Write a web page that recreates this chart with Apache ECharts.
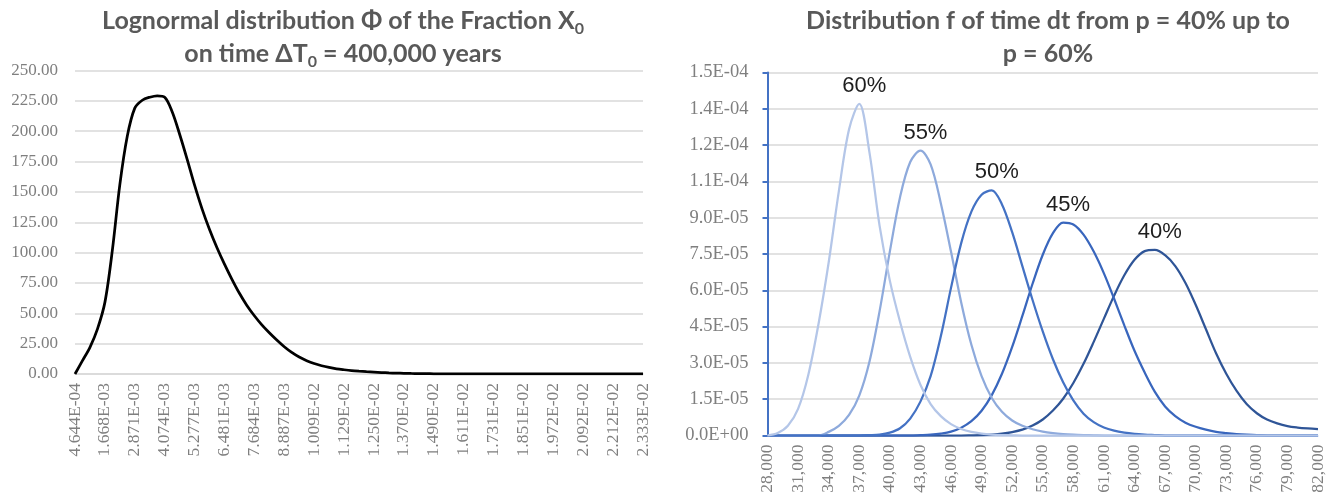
<!DOCTYPE html>
<html>
<head>
<meta charset="utf-8">
<script src="https://cdn.jsdelivr.net/npm/echarts@6/dist/echarts.min.js"></script>
<style>
html,body{margin:0;padding:0;background:#fff;}
#chart{width:1327px;height:500px;}
</style>
</head>
<body>
<div id="chart"></div>
<script>
// ---------- Left chart: lognormal distribution of fraction X0 ----------
const leftTickLabels = ['4.644E-04','1.668E-03','2.871E-03','4.074E-03','5.277E-03','6.481E-03','7.684E-03','8.887E-03','1.009E-02','1.129E-02','1.250E-02','1.370E-02','1.490E-02','1.611E-02','1.731E-02','1.851E-02','1.972E-02','2.092E-02','2.212E-02','2.333E-02'];
const leftSubSteps = 4; // data points per labelled step
const leftPhi = [0,11,22,37,59,102,156,196,219,225.5,228,229.2,228,216,197.5,177,155.5,136,119,104,90.5,78,66.5,56.5,48,40.5,34,28,22.5,17.8,14,11,8.6,6.8,5.4,4.3,3.5,2.8,2.3,1.9,1.55,1.2,0.9,0.7,0.55,0.42,0.32,0.25,0.19,0.15,0.12,0.09,0.07,0.055,0.04,0.03,0.025,0.02,0.015,0.012,0.01,0.008,0.006,0.005,0.004,0.003,0.0025,0.002,0.0015,0.001,0.001,0.0008,0.0006,0.0005,0.0004,0.0003,0.0002];

// ---------- Right chart: distribution f of time dt ----------
const dtStart = 28000, dtEnd = 82000, dtStep = 1000;
const p60 = [0,1e-6,4e-6,1.1e-5,2.5e-5,4.6e-5,7.15e-5,1.01e-4,1.265e-4,1.37e-4,1.17e-4,8.65e-5,6.4e-5,4.7e-5,3.25e-5,2.1e-5,1.3e-5,8e-6,4.7e-6,2.7e-6,1.5e-6,8e-7,4e-7,2e-7,1e-7,0,0,0,0,0,0,0,0,0,0,0,0,0,0,0,0,0,0,0,0,0,0,0,0,0,0,0,0,0,0];
const p55 = [0,0,0,0,0,0,1.5e-6,4e-6,8.5e-6,1.65e-5,3.05e-5,5.15e-5,7.6e-5,9.85e-5,1.13e-4,1.177e-4,1.12e-4,9.6e-5,7.6e-5,5.5e-5,3.75e-5,2.45e-5,1.55e-5,9.8e-6,6.2e-6,4e-6,2.6e-6,1.6e-6,1e-6,6e-7,3.5e-7,2e-7,1e-7,0,0,0,0,0,0,0,0,0,0,0,0,0,0,0,0,0,0,0,0,0,0];
const p50 = [0,0,0,0,0,0,0,0,0,0,1.5e-7,4e-7,1.2e-6,3e-6,7e-6,1.4e-5,2.45e-5,4.1e-5,6.1e-5,7.95e-5,9.25e-5,9.95e-5,1.013e-4,9.55e-5,8.4e-5,7e-5,5.6e-5,4.3e-5,3.15e-5,2.2e-5,1.45e-5,9e-6,5.5e-6,3.3e-6,2e-6,1.2e-6,7e-7,4e-7,2e-7,0,0,0,0,0,0,0,0,0,0,0,0,0,0,0,0];
const p45 = [0,0,0,0,0,0,0,0,0,0,0,0,0,0,0,1.5e-7,3.5e-7,8e-7,1.6e-6,3.2e-6,5.9e-6,1.02e-5,1.67e-5,2.55e-5,3.66e-5,4.94e-5,6.27e-5,7.47e-5,8.36e-5,8.8e-5,8.72e-5,8.3e-5,7.6e-5,6.7e-5,5.65e-5,4.55e-5,3.5e-5,2.6e-5,1.8e-5,1.2e-5,8e-6,5.3e-6,3.6e-6,2.4e-6,1.5e-6,1e-6,6e-7,3.5e-7,2e-7,0,0,0,0,0,0];
const p40 = [0,0,0,0,0,0,0,0,0,0,0,0,0,0,0,0,0,0,0,0,8e-8,1.8e-7,3.8e-7,7.4e-7,1.4e-6,2.4e-6,4.1e-6,6.6e-6,1.03e-5,1.52e-5,2.17e-5,2.96e-5,3.87e-5,4.83e-5,5.78e-5,6.62e-5,7.26e-5,7.62e-5,7.67e-5,7.45e-5,7.0e-5,6.3e-5,5.4e-5,4.4e-5,3.4e-5,2.55e-5,1.85e-5,1.3e-5,9.2e-6,6.6e-6,5e-6,3.9e-6,3.3e-6,2.9e-6,2.6e-6];
const pNames = ['40%','45%','55%','50%','60%'];
const pData = [p40, p45, p55, p50, p60];
const pColors = {'60%':'#b4c6e8','55%':'#8eaadc','50%':'#4472c4','45%':'#3966bd','40%':'#2f5597'};

// ---------- build categories ----------
const leftCategories = [];
for (let i = 0; i < leftTickLabels.length; i++) {
  leftCategories.push(leftTickLabels[i]);
  if (i < leftTickLabels.length - 1) {
    const a = parseFloat(leftTickLabels[i]), b = parseFloat(leftTickLabels[i+1]);
    for (let j = 1; j < leftSubSteps; j++) leftCategories.push(String(a + (b - a) * j / leftSubSteps));
  }
}
const dtCategories = [];
for (let t = dtStart; t <= dtEnd; t += dtStep) dtCategories.push(t);

function fmtExp(v, d) {
  if (v === 0) return (0).toFixed(d) + 'E+00';
  let e = Math.floor(Math.log10(Math.abs(v)) + 1e-12);
  let m = v / Math.pow(10, e);
  const f = Math.pow(10, d);
  m = Math.round(m * f + 1e-9) / f;
  if (m >= 10) { m /= 10; e++; }
  return m.toFixed(d) + 'E' + (e < 0 ? '-' : '+') + String(Math.abs(e)).padStart(2, '0');
}

const serif = "'Liberation Serif', 'Times New Roman', serif";
const labelGray = '#7f7f7f';
const gridGray = '#d9d9d9';
const SMOOTH = 0.33;

const titleStyle = {
  fontFamily: 'Lato, "Open Sans", sans-serif', fontWeight: 'bold', fontSize: 25,
  color: '#595959', lineHeight: 33,
  rich: { sub: { fontFamily: 'Lato, "Open Sans", sans-serif', fontWeight: 'bold', fontSize: 16, color: '#595959', lineHeight: 16, verticalAlign: 'bottom' } }
};

const rightSeries = pNames.map((name, i) => ({
  name: name, type: 'line', xAxisIndex: 1, yAxisIndex: 1,
  data: pData[i], smooth: SMOOTH, symbol: 'none',
  lineStyle: { color: pColors[name], width: 2.25 },
  itemStyle: { color: pColors[name] },
  markPoint: {
    symbol: 'circle', symbolSize: 0,
    itemStyle: { color: 'transparent' },
    label: {
      show: true, position: 'top', distance: 7, offset: [5, 0],
      formatter: name,
      fontFamily: "'Liberation Sans Narrow', 'Arial Narrow', 'Liberation Sans', Arial, sans-serif",
      fontSize: 22, color: '#1e1e1e'
    },
    data: [{ type: 'max' }]
  },
  z: 2 + i
}));

const option = {
  animation: false,
  backgroundColor: '#ffffff',
  title: [
    { text: 'Lognormal distribution Φ of the Fraction X{sub|0}\non time ΔT{sub|0} = 400,000 years',
      left: 338, top: -1, textAlign: 'center', textStyle: titleStyle },
    { text: 'Distribution f of time dt from p = 40% up to\np = 60%',
      left: 1043, top: -1, textAlign: 'center', textStyle: titleStyle }
  ],
  grid: [
    { left: 75, right: 1327 - 643, top: 70.5, bottom: 500 - 374 },
    { left: 767.5, right: 8, top: 72.5, bottom: 500 - 435.5 }
  ],
  xAxis: [
    { type: 'category', gridIndex: 0, data: leftCategories, boundaryGap: false,
      axisLine: { lineStyle: { color: gridGray, width: 1.5 } },
      axisTick: { show: false },
      axisLabel: { interval: leftSubSteps - 1, rotate: 90, margin: 9,
        fontFamily: serif, fontSize: 17.5, color: labelGray } },
    { type: 'category', gridIndex: 1, data: dtCategories, boundaryGap: false,
      axisLine: { lineStyle: { color: '#c9d6ee', width: 1.5 } },
      axisTick: { show: false },
      axisLabel: { interval: 2, rotate: 90, margin: 9,
        fontFamily: serif, fontSize: 17.5, color: labelGray,
        formatter: v => Number(v).toLocaleString('en-US') } }
  ],
  yAxis: [
    { type: 'value', gridIndex: 0, min: 0, max: 250, interval: 25,
      axisLine: { show: false }, axisTick: { show: false },
      splitLine: { lineStyle: { color: gridGray, width: 1.5 } },
      axisLabel: { margin: 17, fontFamily: serif, fontSize: 17, color: labelGray,
        formatter: v => v.toFixed(2) } },
    { type: 'value', gridIndex: 1, min: 0, max: 1.5e-4, interval: 1.5e-5,
      axisLine: { show: true, lineStyle: { color: '#4472c4', width: 2 } },
      axisTick: { show: true, inside: false, length: 5, lineStyle: { color: '#4472c4', width: 2 } },
      splitLine: { lineStyle: { color: gridGray, width: 1.5 } },
      axisLabel: { margin: 19, fontFamily: serif, fontSize: 18.5, color: labelGray,
        formatter: v => fmtExp(v, 1) } }
  ],
  series: [
    { name: 'Phi', type: 'line', xAxisIndex: 0, yAxisIndex: 0, data: leftPhi,
      smooth: SMOOTH, symbol: 'none', lineStyle: { color: '#000000', width: 2.75 }, z: 3 }
  ].concat(rightSeries)
};

const chart = echarts.init(document.getElementById('chart'), null, { renderer: 'canvas' });
chart.setOption(option);
</script>
</body>
</html>
